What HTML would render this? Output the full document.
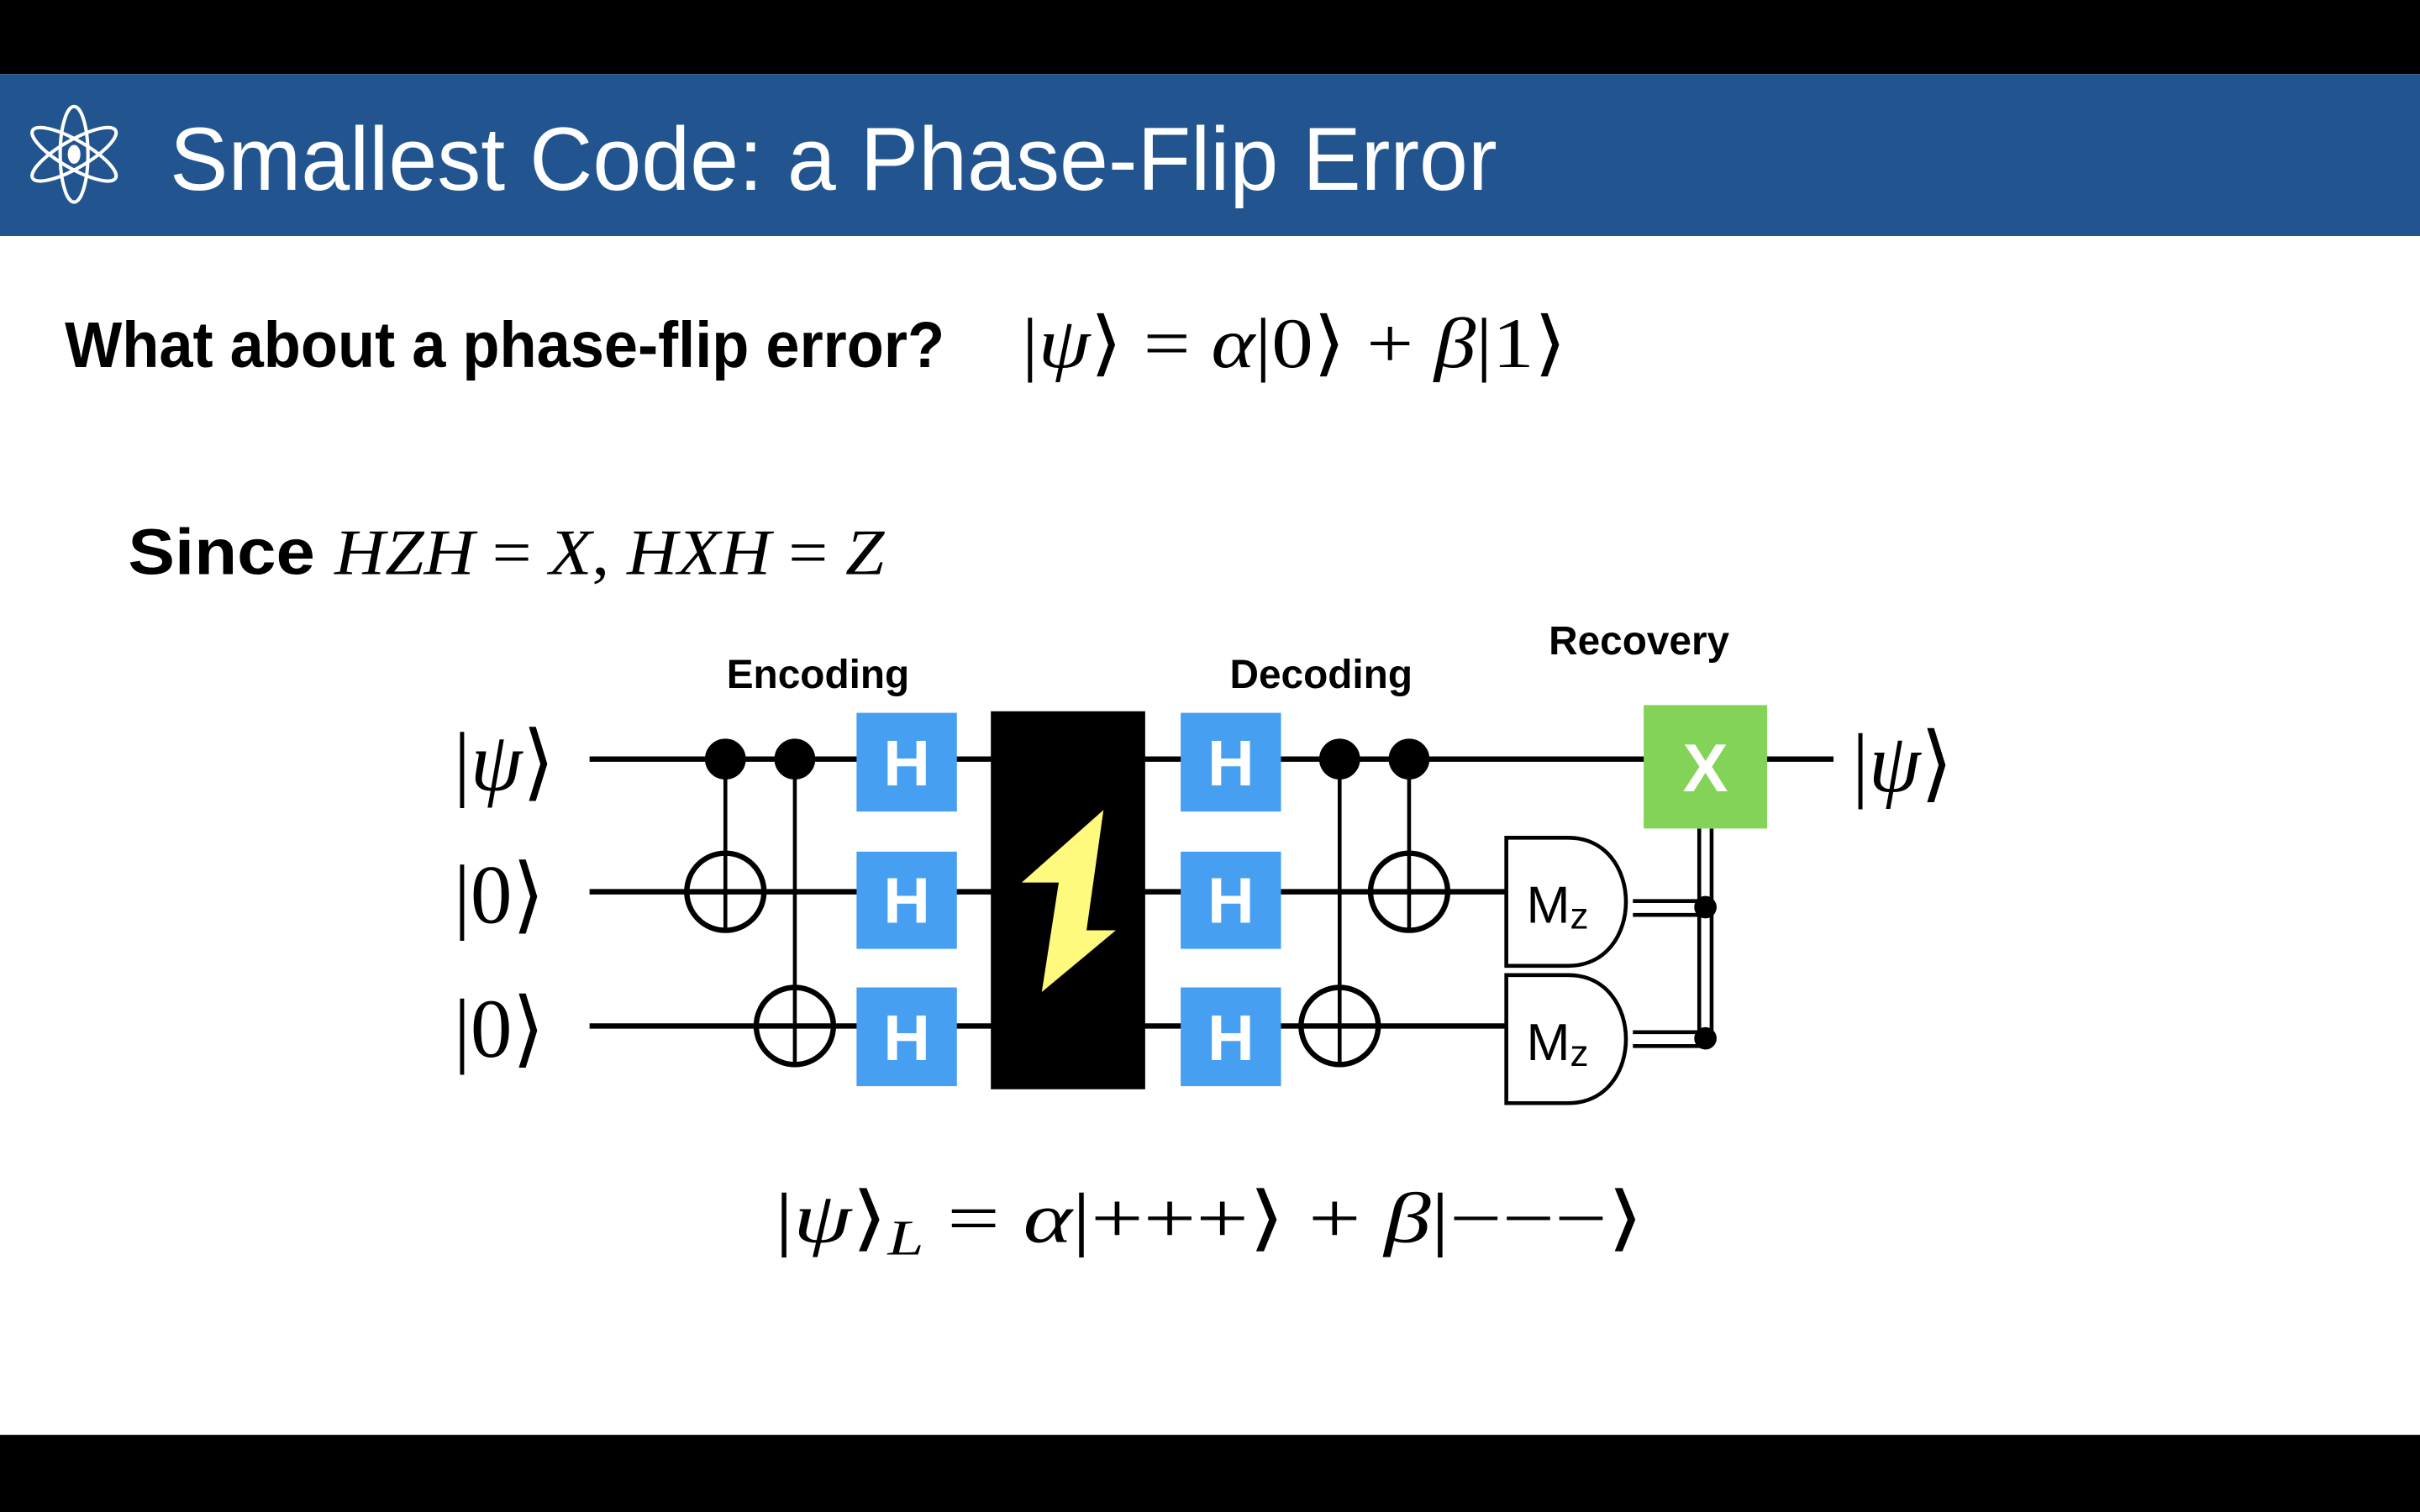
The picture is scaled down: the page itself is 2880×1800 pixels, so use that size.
<!DOCTYPE html>
<html><head><meta charset="utf-8"><style>
html,body{margin:0;padding:0;background:#fff;}
svg{display:block;}
.sans{font-family:"Liberation Sans","DejaVu Sans",sans-serif;}
.serif{font-family:"Liberation Serif","DejaVu Serif",serif;}
</style></head><body>
<svg width="2880" height="1800" viewBox="0 0 1568 980" xmlns="http://www.w3.org/2000/svg">
<rect x="0" y="0" width="1568" height="980" fill="#fff"/>
<rect x="0" y="0" width="1568" height="48" fill="#000"/>
<rect x="0" y="48" width="1568" height="105" fill="#22558f"/>
<rect x="0" y="930" width="1568" height="50" fill="#000"/>

<g fill="none" stroke="#fff" stroke-width="2.2">
  <ellipse cx="48" cy="100" rx="9" ry="31"/>
  <ellipse cx="48" cy="100" rx="9" ry="31" transform="rotate(60 48 100)"/>
  <ellipse cx="48" cy="100" rx="9" ry="31" transform="rotate(-60 48 100)"/>
  <ellipse cx="48" cy="100" rx="3" ry="5" fill="#fff"/>
</g>
<text class="sans" x="110" y="123" font-size="58" fill="#fff" textLength="860" lengthAdjust="spacingAndGlyphs">Smallest Code: a Phase-Flip Error</text>

<text class="sans" x="42" y="238" font-size="42" font-weight="bold" fill="#000" textLength="570" lengthAdjust="spacingAndGlyphs">What about a phase-flip error?</text>
<text class="serif" x="662" y="238" font-size="46" fill="#000" textLength="353" lengthAdjust="spacingAndGlyphs">|<tspan font-style="italic">ψ</tspan>⟩ = <tspan font-style="italic">α</tspan>|0⟩ + <tspan font-style="italic">β</tspan>|1⟩</text>

<text x="83" y="372" font-size="42" fill="#000" textLength="490" lengthAdjust="spacingAndGlyphs"><tspan class="sans" font-weight="bold">Since </tspan><tspan class="serif" font-style="italic">HZH</tspan><tspan class="serif"> = </tspan><tspan class="serif" font-style="italic">X</tspan><tspan class="serif">, </tspan><tspan class="serif" font-style="italic">HXH</tspan><tspan class="serif"> = </tspan><tspan class="serif" font-style="italic">Z</tspan></text>

<g>
  <text class="sans" x="530" y="446" font-size="26" font-weight="bold" text-anchor="middle">Encoding</text>
  <text class="sans" x="856" y="446" font-size="26" font-weight="bold" text-anchor="middle">Decoding</text>
  <text class="sans" x="1062" y="424" font-size="26" font-weight="bold" text-anchor="middle">Recovery</text>

  <text class="serif" x="294" y="512" font-size="54">|<tspan font-style="italic">ψ</tspan>⟩</text>
  <text class="serif" x="294" y="598" font-size="54">|0⟩</text>
  <text class="serif" x="294" y="685" font-size="54">|0⟩</text>
  <text class="serif" x="1200" y="513" font-size="54">|<tspan font-style="italic">ψ</tspan>⟩</text>

  <g stroke="#000" stroke-width="3.5">
    <line x1="382" y1="492" x2="1188" y2="492"/>
    <line x1="382" y1="578" x2="976" y2="578"/>
    <line x1="382" y1="665" x2="976" y2="665"/>
  </g>

  <g stroke="#000" stroke-width="2.5" fill="none">
    <line x1="470" y1="492" x2="470" y2="604"/>
    <line x1="515" y1="492" x2="515" y2="691"/>
    <line x1="868" y1="492" x2="868" y2="691"/>
    <line x1="913" y1="492" x2="913" y2="604"/>
    <circle cx="470" cy="578" r="25" stroke-width="3.5"/>
    <circle cx="515" cy="665" r="25" stroke-width="3.5"/>
    <circle cx="868" cy="665" r="25" stroke-width="3.5"/>
    <circle cx="913" cy="578" r="25" stroke-width="3.5"/>
    <circle cx="470" cy="492" r="12" fill="#000"/>
    <circle cx="515" cy="492" r="12" fill="#000"/>
    <circle cx="868" cy="492" r="12" fill="#000"/>
    <circle cx="913" cy="492" r="12" fill="#000"/>
  </g>

  <g>
    <rect x="555" y="462" width="65" height="64" fill="#479ff2"/>
    <rect x="555" y="552" width="65" height="63" fill="#479ff2"/>
    <rect x="555" y="640" width="65" height="64" fill="#479ff2"/>
    <rect x="765" y="462" width="65" height="64" fill="#479ff2"/>
    <rect x="765" y="552" width="65" height="63" fill="#479ff2"/>
    <rect x="765" y="640" width="65" height="64" fill="#479ff2"/>
    <g class="sans" font-size="42" font-weight="bold" fill="#fff" text-anchor="middle">
      <text x="587.5" y="509">H</text><text x="587.5" y="598">H</text><text x="587.5" y="687">H</text>
      <text x="797.5" y="509">H</text><text x="797.5" y="598">H</text><text x="797.5" y="687">H</text>
    </g>
  </g>

  <rect x="642" y="461" width="100" height="245" fill="#000"/>
  <polygon points="715,525 704,603 723,603 675,643 686,572 662,572" fill="#fff97d"/>

  <g stroke="#000" stroke-width="2.5" fill="#fff">
    <path d="M976,543 H1016 C1066,543 1066,626 1016,626 H976 Z"/>
    <path d="M976,632 H1016 C1066,632 1066,715 1016,715 H976 Z"/>
  </g>
  <g class="sans" font-size="34" fill="#000">
    <text x="989" y="598">M<tspan font-size="24" dy="4">z</tspan></text>
    <text x="989" y="687">M<tspan font-size="24" dy="4">z</tspan></text>
  </g>

  <g stroke="#000" stroke-width="2.5">
    <line x1="1058" y1="584" x2="1105" y2="584"/>
    <line x1="1058" y1="593" x2="1105" y2="593"/>
    <line x1="1058" y1="669" x2="1105" y2="669"/>
    <line x1="1058" y1="678" x2="1105" y2="678"/>
    <line x1="1101" y1="537" x2="1101" y2="675"/>
    <line x1="1109" y1="537" x2="1109" y2="675"/>
    <circle cx="1105" cy="588" r="6" fill="#000"/>
    <circle cx="1105" cy="673" r="6" fill="#000"/>
  </g>

  <rect x="1065" y="457" width="80" height="80" fill="#82d358"/>
  <text class="sans" x="1105" y="513" font-size="44" font-weight="bold" fill="#fff" text-anchor="middle">X</text>
</g>

<text class="serif" x="502" y="805" font-size="46" fill="#000" textLength="563" lengthAdjust="spacingAndGlyphs">|<tspan font-style="italic">ψ</tspan>⟩<tspan font-style="italic" font-size="32" dy="8">L</tspan><tspan dy="-8"> = </tspan><tspan font-style="italic">α</tspan>|+++⟩ + <tspan font-style="italic">β</tspan>|−−−⟩</text>
</svg>
</body></html>
